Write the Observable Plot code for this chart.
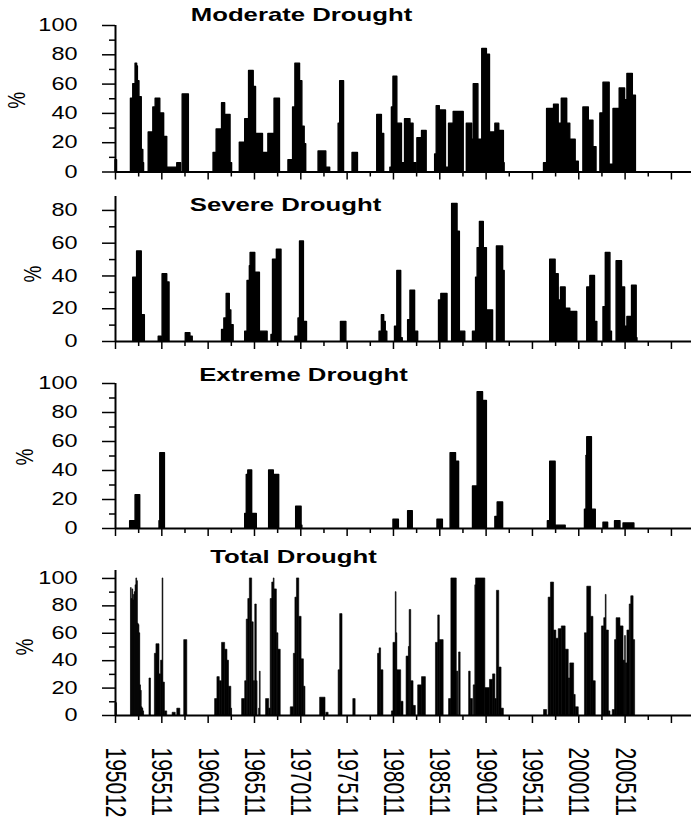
<!DOCTYPE html>
<html><head><meta charset="utf-8">
<script src="https://cdn.jsdelivr.net/npm/d3@7"></script>
<script src="https://cdn.jsdelivr.net/npm/@observablehq/plot@0.6"></script>
<style>
body{margin:0;background:#fff;}
#chart{position:relative;width:691px;height:824px;overflow:hidden;background:#fff;}
#chart svg{position:absolute;left:0;overflow:visible;}
</style></head><body><div id="chart"></div>
<script>
// month index 0 = December 1950; each entry: [first month, last month, percent]
const tickLabels = ["195012","195511","196011","196511","197011","197511","198011","198511","199011","199511","200011","200511"];

const moderate = [[0,1,8],[20,22,50],[23,25,60],[26,27,74],[28,28,72],[29,30,62],[31,33,51],[34,35,15],[36,36,6],
[43,48,27],[49,51,44],[52,57,50],[58,62,40],[63,66,24],[67,79,3],[80,84,6],[87,94,53],
[127,130,13],[131,137,29],[138,141,47],[142,148,39],[149,150,6],
[161,167,20],[168,172,36],[173,178,69],[179,181,58],[182,190,26],[191,197,13],[198,205,26],[206,212,50],
[224,229,8],[230,232,44],[233,238,74],[239,241,62],[242,244,31],[245,246,19],
[263,272,14],[273,277,3],[289,290,33],[291,295,62],[307,313,13],[339,344,39],[345,347,26],
[356,357,3],[358,359,44],[360,364,65],[365,370,33],[371,374,6],[375,381,36],[382,385,33],[386,389,6],[391,396,23],[397,402,28],
[414,415,12],[416,419,45],[420,427,42],[428,431,3],[432,437,33],[438,450,41],
[455,461,33],[462,463,22],[464,469,60],[470,474,22],[475,480,84],[481,484,80],[485,491,27],[492,496,33],[497,502,28],[503,503,6],
[555,558,6],[559,567,43],[568,573,46],[574,577,33],[578,584,50],[585,588,33],[589,595,22],[596,599,7],
[606,612,44],[613,618,35],[619,622,17],
[628,631,40],[632,639,61],[640,644,5],[645,652,43],[653,659,57],[660,662,49],[663,669,67],[670,673,52]];

const severe = [[23,27,39],[28,33,55],[34,37,16],[56,59,3],[61,66,41],[67,69,36],[91,96,5],[97,99,3],
[138,140,7],[141,143,14],[144,147,29],[148,149,19],[150,152,10],
[168,170,6],[171,173,37],[174,174,46],[175,180,54],[181,186,42],[187,196,6],
[202,203,4],[204,208,50],[209,214,56],
[233,236,3],[237,238,14],[239,243,61],[244,247,12],[292,298,12],
[342,344,6],[345,347,16],[348,349,12],[350,351,6],[362,364,9],[365,369,43],[370,371,2],
[379,381,13],[382,387,31],[388,391,6],[419,421,25],[422,429,29],
[436,442,84],[443,445,67],[446,452,6],
[463,466,6],[467,468,39],[469,471,57],[472,476,73],[477,480,57],[481,488,19],[494,501,58],[502,503,43],
[563,569,50],[570,573,41],[574,576,25],[577,582,33],[583,588,20],[589,597,18],
[611,614,33],[615,620,40],[621,623,12],[632,634,21],[635,640,54],[641,642,6],
[649,655,49],[656,659,33],[660,662,9],[663,668,15],[669,674,34],[675,675,2]];

const extreme = [[19,25,5],[26,31,23],[57,57,5],[58,63,52],
[168,169,10],[170,171,37],[172,176,40],[177,182,10],[199,204,40],[205,211,37],[234,240,15],[241,241,2],
[360,366,6],[379,384,12],[417,423,6],[434,440,52],[441,444,46],
[463,468,29],[469,475,94],[476,480,88],[492,494,8],[495,501,18],
[560,562,5],[563,569,46],[570,582,2],
[608,609,13],[610,610,50],[611,616,63],[617,621,13],[632,637,4],[647,653,5],[658,671,3.5]];

const total = [[0,1,9],[20,20,93],[21,21,85],[22,22,92],[23,23,84],[24,24,88],[25,25,90],[26,26,95],[27,27,100],[28,28,98],
[29,29,67],[30,30,66],[31,31,60],[32,32,22],[33,33,18],[34,34,6],[35,35,5],[36,36,3],
[44,45,27],[51,52,45],[53,56,52],[57,58,30],[59,60,40],[61,61,100],[62,63,24],[64,66,3],[74,77,2],[80,83,5],[89,92,55],
[129,131,12],[132,134,28],[135,137,25],[138,141,53],[142,144,48],[145,146,40],[147,149,21],[150,150,5],
[164,167,12],[168,169,25],[170,171,70],[172,173,85],[174,176,100],[177,178,68],[179,180,25],[181,182,81],[183,183,25],
[186,186,5],[187,187,32],[195,198,12],[199,200,5],[201,202,85],[203,204,97],[205,205,100],[206,208,92],[209,210,60],[211,213,48],
[227,230,6],[231,232,45],[233,234,86],[235,237,100],[238,240,72],[241,243,41],[244,245,21],
[265,271,13],[273,275,2],[289,290,33],[291,293,74],[308,310,12],
[340,341,45],[342,343,49],[344,346,33],[358,359,3],[360,362,53],[363,363,90],[364,364,60],[365,369,33],[370,372,10],
[377,379,43],[380,380,50],[381,382,77],[383,385,25],[386,388,7],[392,396,22],[397,401,28],
[415,417,53],[418,419,73],[420,424,55],[432,434,12],[435,441,100],[442,443,32],[445,446,46],
[458,459,32],[460,462,12],[464,465,22],[466,466,95],[467,478,100],[479,484,20],[485,488,26],[489,491,30],[492,493,12],
[494,496,91],[497,499,35],[500,502,5],
[555,558,4],[561,563,86],[564,567,97],[568,570,62],[571,573,56],[574,577,63],[578,582,65],[583,586,48],[587,588,27],
[589,593,38],[594,595,15],[596,599,6],
[608,610,60],[611,615,94],[616,618,72],[619,621,25],[630,632,65],[633,634,71],[635,635,88],[636,638,62],[639,640,3],
[644,646,4],[647,648,55],[649,653,71],[654,657,65],[658,659,40],[660,660,58],[661,662,38],[663,665,62],[666,667,81],
[668,670,87],[671,672,55]];

const titles = ["Moderate Drought","Severe Drought","Extreme Drought","Total Drought"];
const series = [moderate, severe, extreme, total];
const yMax = [100, 88.5, 100, 105.8];

const layout = [
  {top:0,   height:185, mt:25, mb:13.5, tdx:-102, tdy:-10,  pdx:-98, pdy:10},
  {top:185, height:170, mt:11, mb:14,   tdx:-118, tdy:9,    pdx:-82, pdy:13.5},
  {top:355, height:180, mt:28, mb:7,    tdx:-100, tdy:-8,   pdx:-90, pdy:9.5},
  {top:535, height:289, mt:35, mb:109,  tdx:-110, tdy:-13,  pdx:-90, pdy:12.5}
];

const majorX = d3.range(0, 721, 60);
const minorX = d3.range(30, 720, 60);
const chart = document.getElementById("chart");

// horizontal widening of the lettering, as in the reference
function widen(group, s) {
  if (!group) return;
  group.querySelectorAll("text").forEach(t => {
    const tr = t.getAttribute("transform") || "";
    const sc = ` scale(${s},1)`;
    t.setAttribute("transform", tr.includes("rotate") ? tr.replace(/\s*rotate/, sc + " rotate") : tr + sc);
  });
}

series.forEach((data, k) => {
  const L = layout[k];
  const majorY = d3.range(0, yMax[k] + 0.01, 20);
  const minorY = d3.range(10, yMax[k], 20);
  const last = k === 3;
  const svg = Plot.plot({
    width: 691, height: L.height,
    marginLeft: 115, marginRight: 0, marginTop: L.mt, marginBottom: L.mb,
    style: {fontFamily: "'Liberation Sans', Arial, sans-serif", fontSize: "17.5px", color: "black", background: "transparent", overflow: "visible"},
    x: {type: "linear", domain: [0, 746]},
    y: {domain: [0, yMax[k]]},
    marks: [
      Plot.rect(data, {x1: d => d[0], x2: d => d[1] + 1, y1: 0, y2: d => d[2], fill: "black",
        stroke: "black", strokeWidth: last ? 0.6 : 1.4, strokeLinejoin: "round"}),
      Plot.ruleY([0], {strokeWidth: 2}),
      Plot.ruleX([0], {strokeWidth: 2}),
      Plot.axisY(majorY, {tickSize: 13, tickPadding: 25, strokeWidth: 1.5, label: null, fontSize: 17.5, tickFormat: d => String(d)}),
      Plot.axisY(minorY, {tickSize: 6, strokeWidth: 1.5, label: null, tickFormat: () => ""}),
      Plot.axisX(majorX, {tickSize: 8, tickPadding: 24, strokeWidth: 1.5, label: null, tickRotate: 90, fontSize: 21,
        tickFormat: d => last ? (tickLabels[d / 60] ?? "") : ""}),
      Plot.axisX(minorX, {tickSize: 5, strokeWidth: 1.5, label: null, tickFormat: () => ""}),
      Plot.text([titles[k]], {frameAnchor: "top", dx: L.tdx, dy: L.tdy, lineAnchor: "middle",
        fontWeight: "bold", fontSize: 18, fill: "black"}),
      Plot.text(["%"], {frameAnchor: "left", dx: L.pdx, dy: L.pdy, rotate: -90, fontSize: 19, lineAnchor: "middle", fill: "black"})
    ]
  });
  widen(svg.querySelector('g[aria-label="y-axis tick label"]'), 1.34);
  svg.querySelectorAll('g[aria-label="x-axis tick label"]').forEach(g => widen(g, 1.4));
  const textGroups = svg.querySelectorAll('g[aria-label="text"]');
  widen(textGroups[0], 1.43); // panel title
  widen(textGroups[1], 1.3);  // % label
  svg.style.top = L.top + "px";
  chart.appendChild(svg);
});
</script></body></html>
